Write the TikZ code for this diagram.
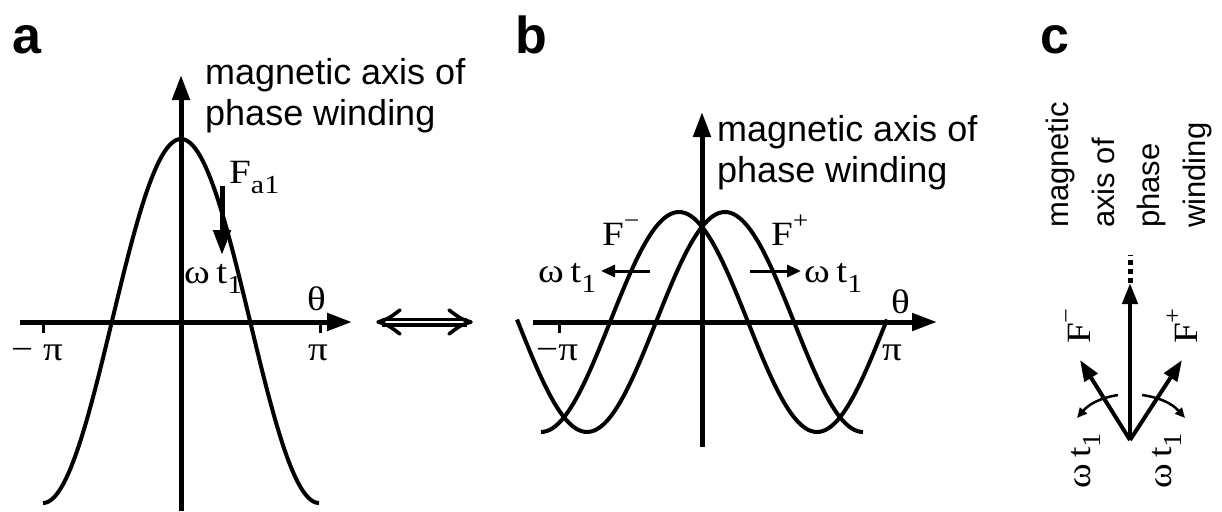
\documentclass[tikz,border=0pt]{standalone}
\usepackage{fontspec}
\setmainfont{Liberation Serif}
\setsansfont{Liberation Sans}
\usetikzlibrary{arrows.meta}
\newcommand{\lowsub}[1]{\raisebox{-10pt}{\fontsize{26}{26}\selectfont #1}}
\newcommand{\highsup}[1]{\raisebox{17pt}{\fontsize{24}{24}\selectfont #1}}
\tikzset{
  axisline/.style={line width=5pt},
  crv/.style={line width=4pt},
  bigtip/.style={-{Triangle[length=25pt,width=17pt]}},
  midtip/.style={-{Triangle[length=21pt,width=15pt]}},
  smalltip/.style={-{Triangle[length=14pt,width=12pt]}},
  tinytip/.style={-{Triangle[length=10pt,width=9pt]}},
  chevron/.style={line width=3.6pt, line cap=round, line join=round},
  panellbl/.style={font=\sffamily\bfseries\fontsize{52}{52}\selectfont, inner sep=0pt, anchor=base west},
  axtext/.style={font=\sffamily\fontsize{36}{41}\selectfont, align=left, inner sep=0pt, anchor=base west},
  axtextc/.style={font=\sffamily\fontsize{31}{45.5}\selectfont, align=left, inner sep=0pt, anchor=base west, rotate=90},
  ser/.style={font=\fontsize{34}{34}\selectfont, inner sep=0pt, anchor=base west, xscale=1.15},
  serc/.style={font=\fontsize{34}{34}\selectfont, inner sep=0pt, rotate=90, xscale=1.1},
}
\begin{document}
\begin{tikzpicture}[x=1pt,y=-1pt]
\useasboundingbox (0,0) rectangle (1222,511);
\fill[white] (0,0) rectangle (1222,511);

% ---------------- panel a ----------------
\node[panellbl] (la) at (12,54) {a};
\coordinate (aL) at (20,322);
\coordinate (aR) at (352,322);
\coordinate (aB) at (181,511);
\coordinate (aT) at (181,75);
\draw[axisline,bigtip] (aL) -- (aR);
\draw[axisline,bigtip] (aB) -- (aT);
\coordinate (amp) at (43,322);
\coordinate (app) at (320,322);
\draw[line width=3pt] (amp) -- ++(0,11);
\draw[line width=3pt] (app) -- ++(0,11);
\draw[crv] plot[domain=-180:180, samples=121] ({181+\x/180*138}, {321-182*cos(\x)});
\node[axtext] (ta) at (205,125) {magnetic axis of\\phase winding};
\coordinate (fa0) at (222,186);
\coordinate (fa1) at (222,255);
\draw[axisline,bigtip] (fa0) -- (fa1);
\node[ser] (Fa) at (229,183) {F\lowsub{a1}};
\node[ser] (wa) at (184,283) {ω\,t\lowsub{1}};
\node[ser] (tha) at (307,310) {θ};
\node[ser] (mpia) at (11,360) {− π};
\node[ser] (pia) at (308,360) {π};

% ---------------- double arrow ----------------
\coordinate (d0) at (378,322);
\coordinate (d1) at (471,322);
\draw[line width=3.3pt, double distance=2.4pt, shorten <=4pt, shorten >=4pt] (d0) -- (d1);
\draw[chevron] ([shift={(22,-12)}]d0) .. controls ([shift={(10,-3)}]d0) .. (d0)
               .. controls ([shift={(10,3)}]d0) .. ([shift={(22,12)}]d0);
\draw[chevron] ([shift={(-22,-12)}]d1) .. controls ([shift={(-10,-3)}]d1) .. (d1)
               .. controls ([shift={(-10,3)}]d1) .. ([shift={(-22,12)}]d1);

% ---------------- panel b ----------------
\node[panellbl] (lb) at (515,54) {b};
\coordinate (bL) at (533,322);
\coordinate (bR) at (937,322);
\coordinate (bB) at (702,447);
\coordinate (bT) at (702,112);
\draw[axisline,bigtip] (bL) -- (bR);
\draw[axisline,bigtip] (bB) -- (bT);
\coordinate (bmp) at (559,322);
\draw[line width=3pt] (bmp) -- ++(0,11);
\draw[crv] plot[domain=517:863, samples=121] (\x, {322-110*cos((\x-725)/138*180)});
\draw[crv] plot[domain=541:887, samples=121] (\x, {322-110*cos((\x-679)/138*180)});
\node[axtext] (tb) at (717,182) {magnetic axis of\\phase winding};
\node[ser] (Fm) at (602,245) {F\highsup{−}};
\node[ser] (Fp) at (771,245) {F\highsup{+}};
\coordinate (lm0) at (650,271);
\coordinate (lm1) at (601,271);
\coordinate (lp0) at (750,271);
\coordinate (lp1) at (801,271);
\draw[line width=3pt,smalltip] (lm0) -- (lm1);
\draw[line width=3pt,smalltip] (lp0) -- (lp1);
\node[ser] (wbl) at (538,282) {ω\,t\lowsub{1}};
\node[ser] (wbr) at (804,282) {ω\,t\lowsub{1}};
\node[ser] (thb) at (891,313) {θ};
\node[ser] (mpib) at (536,360) {−π};
\node[ser] (pib) at (882,360) {π};

% ---------------- panel c ----------------
\node[panellbl] (lc) at (1040,54) {c};
\coordinate (cO) at (1130,440);
\coordinate (cT) at (1130,283);
\coordinate (cD) at (1130,255);
\coordinate (cM) at (1080,360);
\coordinate (cP) at (1182,360);
\draw[line width=4.5pt,midtip] (cO) -- (cT);
\draw[line width=5pt, dash pattern=on 5pt off 4pt] (cT) -- (cD);
\draw[line width=4pt,midtip] (cO) -- (cM);
\draw[line width=4pt,midtip] (cO) -- (cP);
\coordinate (am0) at (1118,395);
\coordinate (am1) at (1077,418);
\coordinate (ap0) at (1142,395);
\coordinate (ap1) at (1185,418);
\draw[line width=2.5pt,tinytip] (am0) to[bend right=20] (am1);
\draw[line width=2.5pt,tinytip] (ap0) to[bend left=20] (ap1);
\node[axtextc] (tc) at (1205,228) {magnetic\\axis of\\phase\\winding};
\node[serc] (Fmc) at (1078,326) {F\highsup{−}};
\node[serc] (Fpc) at (1182,326) {F\highsup{+}};
\node[serc] (wcl) at (1086,461) {ω\,t\lowsub{1}};
\node[serc] (wcr) at (1167,461) {ω\,t\lowsub{1}};
\end{tikzpicture}
\end{document}
